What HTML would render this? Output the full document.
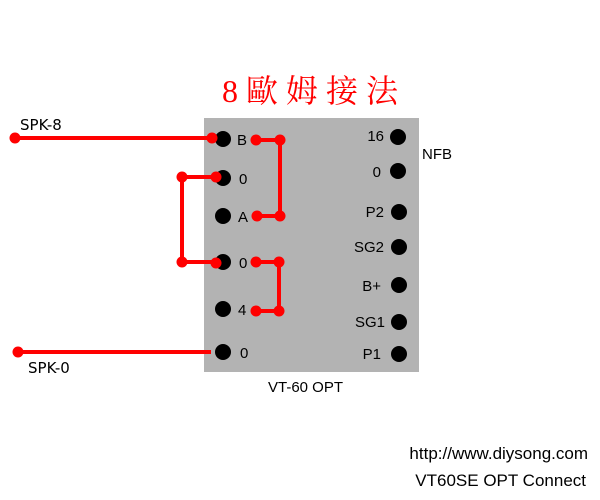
<!DOCTYPE html>
<html><head><style>body{margin:0;background:#fff}</style></head><body>
<svg width="600" height="500" xmlns="http://www.w3.org/2000/svg" style="display:block">
<rect x="204" y="118" width="215" height="254" fill="#b3b3b3"/>
<text x="222" y="102" font-family="'Liberation Serif','Noto Serif CJK SC',serif" font-size="32" fill="#f00" letter-spacing="8">8歐姆接法</text>
<g fill="#000">
<circle cx="223" cy="139" r="8"/><circle cx="223" cy="178" r="8"/><circle cx="223" cy="216" r="8"/>
<circle cx="223" cy="262" r="8"/><circle cx="223" cy="309" r="8"/><circle cx="223" cy="352" r="8"/>
<circle cx="398" cy="137" r="8"/><circle cx="398" cy="171" r="8"/><circle cx="399" cy="212" r="8"/>
<circle cx="399" cy="247" r="8"/><circle cx="399" cy="285" r="8"/><circle cx="399" cy="322" r="8"/><circle cx="399" cy="354" r="8"/>
</g>
<g font-family="'Liberation Sans',sans-serif" font-size="15" fill="#000">
<text x="237" y="145">B</text><text x="239" y="184">0</text><text x="238" y="222">A</text>
<text x="239" y="268">0</text><text x="238" y="315">4</text><text x="240" y="358">0</text>
<text x="384" y="141" text-anchor="end">16</text><text x="381" y="177" text-anchor="end">0</text>
<text x="384" y="217" text-anchor="end">P2</text><text x="384" y="252" text-anchor="end">SG2</text>
<text x="381" y="291" text-anchor="end">B+</text><text x="385" y="327" text-anchor="end">SG1</text>
<text x="381" y="359" text-anchor="end">P1</text>
<text x="422" y="159">NFB</text>
<text x="268" y="392">VT-60 OPT</text>
<text x="588" y="459" text-anchor="end" font-size="17">http://www.diysong.com</text>
<text x="586" y="486" text-anchor="end" font-size="17">VT60SE OPT Connect</text>
</g>
<g font-family="'DejaVu Sans','Liberation Sans',sans-serif" font-size="15" fill="#000">
<text x="20" y="130">SPK-8</text><text x="28" y="373">SPK-0</text>
</g>
<g stroke="#f00" stroke-width="4" fill="none">
<path d="M15 138H212"/><path d="M217 177H182V262H217"/><path d="M18 352H211"/>
<path d="M256 140H280V216H257"/><path d="M256 262H279V311H256"/>
</g>
<g fill="#f00">
<circle cx="15" cy="138" r="5.5"/><circle cx="212" cy="138" r="5.5"/>
<circle cx="182" cy="177" r="5.5"/><circle cx="216" cy="177" r="5.5"/>
<circle cx="182" cy="262" r="5.5"/><circle cx="216" cy="263" r="5.5"/>
<circle cx="18" cy="352" r="5.5"/>
<circle cx="256" cy="140" r="5.5"/><circle cx="280" cy="140" r="5.5"/>
<circle cx="257" cy="216" r="5.5"/><circle cx="280" cy="216" r="5.5"/>
<circle cx="256" cy="262" r="5.5"/><circle cx="279" cy="262" r="5.5"/>
<circle cx="256" cy="311" r="5.5"/><circle cx="279" cy="311" r="5.5"/>
</g>
</svg>
</body></html>
